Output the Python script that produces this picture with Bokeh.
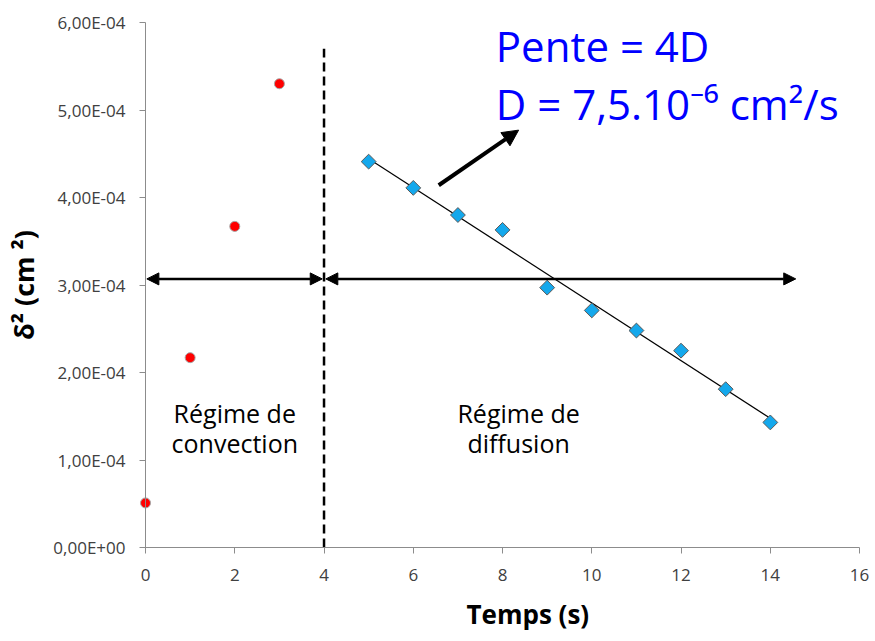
import numpy as np
from bokeh.plotting import figure
from bokeh.models import (Range1d, FixedTicker, Label, Arrow, NormalHead, Title)
from bokeh.embed import file_html
from bokeh.resources import INLINE

# ---------------- data ----------------
conv_t = [0, 1, 2, 3]
conv_d2 = [0.51e-4, 2.17e-4, 3.67e-4, 5.30e-4]

diff_t = [5, 6, 7, 8, 9, 10, 11, 12, 13, 14]
diff_d2 = [4.41e-4, 4.11e-4, 3.80e-4, 3.63e-4, 2.97e-4, 2.71e-4,
           2.48e-4, 2.25e-4, 1.81e-4, 1.43e-4]

x_ticks = [0, 2, 4, 6, 8, 10, 12, 14, 16]
y_ticks = [0, 1e-4, 2e-4, 3e-4, 4e-4, 5e-4, 6e-4]
y_tick_labels = ["0,00E+00", "1,00E-04", "2,00E-04", "3,00E-04",
                 "4,00E-04", "5,00E-04", "6,00E-04"]

regime_boundary = 4

FONT = "Open Sans"

# The frame is larger than the data area so that both axes (fixed at 0)
# and their labels are drawn inside it without clipping.
p = figure(width=872, height=633, output_backend="svg", toolbar_location=None,
           x_range=Range1d(-3.16, 16.29), y_range=Range1d(-0.502e-4, 6.137e-4),
           min_border_left=4, min_border_right=0,
           min_border_top=10, min_border_bottom=41)
p.outline_line_color = None
p.grid.visible = False
p.background_fill_color = "white"
p.border_fill_color = "white"

# axes
axis_col = "#8C8C8C"
p.xaxis.ticker = FixedTicker(ticks=x_ticks)
p.xaxis.bounds = (-0.11, 16)
p.xaxis.fixed_location = 0
p.yaxis.ticker = FixedTicker(ticks=y_ticks)
p.yaxis.bounds = (0, 6e-4)
p.yaxis.major_label_overrides = dict(zip(y_ticks, y_tick_labels))
p.yaxis.fixed_location = 0
for ax in (p.xaxis, p.yaxis):
    ax.axis_line_color = axis_col
    ax.major_tick_line_color = axis_col
    ax.minor_tick_line_color = None
    ax.major_tick_in = 0
    ax.major_tick_out = 6
    ax.major_label_text_font = FONT
    ax.major_label_text_font_size = "17px"
    ax.major_label_text_color = "#404040"
p.xaxis.major_label_standoff = 15
p.yaxis.major_label_standoff = 14

p.yaxis.axis_label = "δ² (cm ²)"
p.yaxis.axis_label_text_font = FONT
p.yaxis.axis_label_text_font_style = "bold"
p.yaxis.axis_label_text_font_size = "27px"
p.yaxis.axis_label_text_color = "black"
p.yaxis.axis_label_standoff = 8

p.add_layout(Title(text="Temps (s)", align="left", offset=462, text_font=FONT,
                   text_font_style="bold", text_font_size="26px",
                   text_color="black", standoff=4), "below")

# regime boundary (dashed)
p.segment(x0=[regime_boundary], y0=[0], x1=[regime_boundary], y1=[5.7e-4],
          line_color="black", line_width=2.5, line_dash="9 5")

# double arrows
for xs, xe in [(0.03, regime_boundary - 0.04), (regime_boundary + 0.04, 14.57)]:
    p.add_layout(Arrow(x_start=xs, y_start=3.07e-4, x_end=xe, y_end=3.07e-4,
                       line_width=2.5, line_color="black",
                       start=NormalHead(size=12, fill_color="black", line_color="black"),
                       end=NormalHead(size=12, fill_color="black", line_color="black")))

# trend line on diffusion regime
coef = np.polyfit(diff_t, diff_d2, 1)
fit_x = [diff_t[0], diff_t[-1]]
fit_y = [coef[0] * fit_x[0] + coef[1], coef[0] * fit_x[1] + coef[1]]
p.line(fit_x, fit_y, line_color="black", line_width=1.2)

# points
p.scatter(conv_t, conv_d2, marker="circle", size=10, fill_color="#FF0000",
          line_color="#A6A6A6", line_width=1)
p.scatter(diff_t, diff_d2, marker="square", angle=np.pi / 4, size=10.5,
          fill_color="#14A8EC", line_color="#5A5A5A", line_width=1)

# slope arrow
p.add_layout(Arrow(x_start=6.57, y_start=4.14e-4, x_end=8.36, y_end=4.77e-4,
                   line_width=4, line_color="black",
                   end=NormalHead(size=16, fill_color="black", line_color="black")))

# annotations
p.add_layout(Label(x=7.85, y=5.74e-4, text="Pente = 4D", text_font=FONT,
                   text_font_size="42px", text_color="#0000FF",
                   text_baseline="alphabetic"))
p.add_layout(Label(x=7.85, y=5.08e-4, text="D = 7,5.10⁻⁶ cm²/s", text_font=FONT,
                   text_font_size="42px", text_color="#0000FF",
                   text_baseline="alphabetic"))

for xc, lines in [(2.0, ["Régime de", "convection"]), (8.36, ["Régime de", "diffusion"])]:
    for yv, t in zip([1.54e-4, 1.20e-4], lines):
        p.add_layout(Label(x=xc, y=yv, text=t, text_font=FONT,
                           text_font_size="25px", text_color="black",
                           text_align="center", text_baseline="middle"))

open("out.html", "w").write(file_html(p, INLINE))
